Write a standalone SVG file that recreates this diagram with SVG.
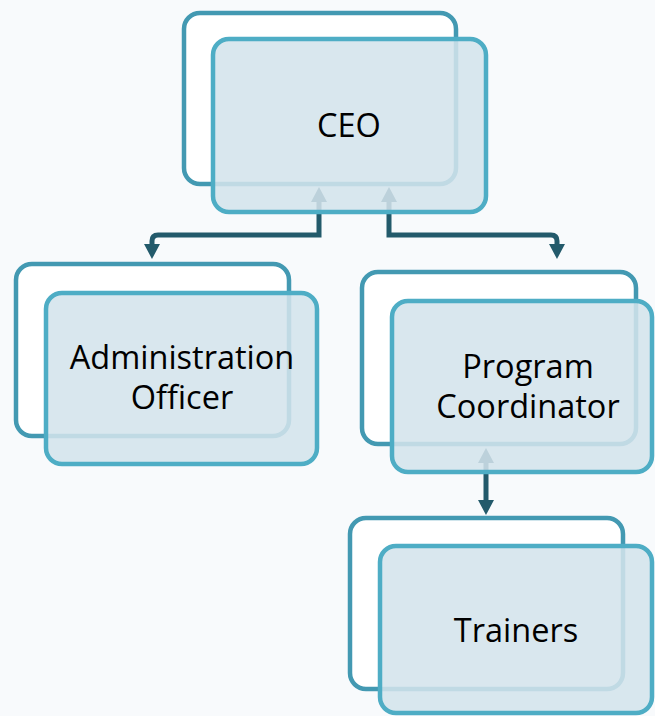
<svg xmlns="http://www.w3.org/2000/svg" width="655" height="716" viewBox="0 0 655 716">
  <style>
    .back { fill: #ffffff; stroke: #4399b2; stroke-width: 4.5; }
    .front { fill: #d3e4eb; fill-opacity: 0.87; stroke: #4eadc5; stroke-width: 4.5; }
    .lbl { font-family: "Open Sans", "Noto Sans", sans-serif; font-size: 32.5px; fill: #000000; text-anchor: middle; }
    .conn { fill: none; stroke: #235a6b; stroke-width: 5; }
  </style>
  <defs>
    <marker id="arrow" viewBox="0 0 15 16" markerWidth="15" markerHeight="16" refX="0" refY="8" orient="auto-start-reverse" markerUnits="userSpaceOnUse">
      <path d="M0,0 L15,8 L0,16 z" fill="#235a6b"/>
    </marker>
  </defs>
  <rect width="655" height="716" fill="#f8fafc"/>
  <g id="connectors">
    <path class="conn" d="M319,202 V235 H158 Q152,235 152,241 V244" marker-start="url(#arrow)" marker-end="url(#arrow)"/>
    <path class="conn" d="M389,202 V235 H551 Q557,235 557,241 V244" marker-start="url(#arrow)" marker-end="url(#arrow)"/>
    <path class="conn" d="M486,463 V500" marker-start="url(#arrow)" marker-end="url(#arrow)"/>
  </g>
  <g id="ceo">
    <rect class="back" x="184" y="13" width="272" height="171" rx="16"/>
    <rect class="front" x="213" y="39" width="273" height="173" rx="16"/>
    <text class="lbl" x="349" y="137">CEO</text>
  </g>
  <g id="admin">
    <rect class="back" x="16" y="264" width="273" height="172" rx="16"/>
    <rect class="front" x="46" y="293" width="271" height="171" rx="16"/>
    <text class="lbl" x="182" y="369">Administration</text>
    <text class="lbl" x="182" y="409">Officer</text>
  </g>
  <g id="program">
    <rect class="back" x="362" y="272" width="274" height="172" rx="16"/>
    <rect class="front" x="392" y="301" width="260" height="171" rx="16"/>
    <text class="lbl" x="528" y="378">Program</text>
    <text class="lbl" x="528" y="418">Coordinator</text>
  </g>
  <g id="trainers">
    <rect class="back" x="350" y="518" width="273" height="171" rx="16"/>
    <rect class="front" x="380" y="546" width="272" height="167" rx="16"/>
    <text class="lbl" x="516" y="642">Trainers</text>
  </g>
</svg>
